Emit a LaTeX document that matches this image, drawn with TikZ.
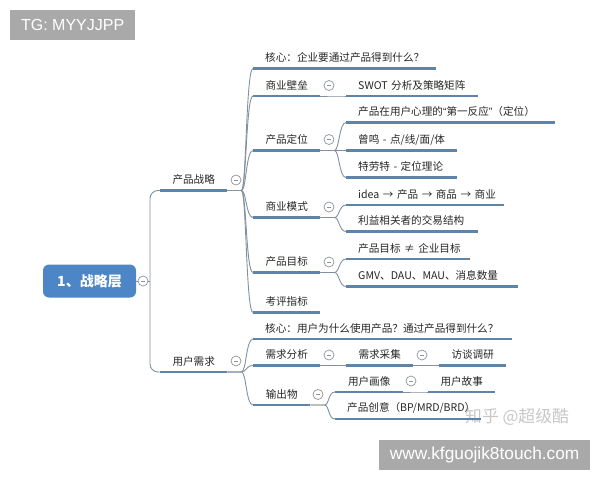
\documentclass[tikz,border=0pt]{standalone}
\usepackage{fontspec}
\setmainfont{Noto Sans CJK SC}
\newfontfamily\latinfont{Liberation Sans}
\usetikzlibrary{calc}
\definecolor{linegray}{HTML}{83919F}
\definecolor{lineblue}{HTML}{5F84AC}
\definecolor{rootblue}{HTML}{4C86C6}
\definecolor{badgegray}{HTML}{8E9499}
\definecolor{bannergray}{HTML}{A9A9A9}
\definecolor{inkgray}{HTML}{262626}
\tikzset{
  base/.style={anchor=south west,inner sep=0pt,minimum height=21pt,text=inkgray,font=\fontsize{10.6pt}{12pt}\selectfont,text width=#1,
    append after command={(\tikzlastnode.south west) edge[uline] (\tikzlastnode.south east)}},
  ct/.style={base=#1,align=center},
  lf/.style={base=#1,align=left,execute at begin node=\hspace*{12pt}},
  uline/.style={draw=lineblue,line width=2.4pt},
  conn/.style={draw=linegray,line width=0.9pt},
  badge/.style={circle,draw=badgegray,fill=white,line width=0.7pt,minimum size=10pt,inner sep=0pt,
    path picture={\draw[badgegray,line width=0.6pt] ($(path picture bounding box.center)+(-2pt,0)$) -- ($(path picture bounding box.center)+(2pt,0)$);}},
  banner/.style={fill=bannergray,text=white,inner sep=0pt,font=\latinfont\fontsize{16pt}{18pt}\selectfont,anchor=north west}
}
\newcommand{\conn}[2]{\draw[conn] (#1.south east) -- ++(14,0) .. controls +(5,0) and ($(#2.south west)+(-7,0)$) .. (#2.south west);}
\begin{document}
\begin{tikzpicture}[x=1pt,y=-1pt]
\useasboundingbox (0,0) rectangle (600,480);
\node[banner,minimum width=125pt,minimum height=30pt] (tg) at (10,10) {TG: MYYJJPP};
\node[anchor=west,inner sep=0pt,text=black!22,font=\fontsize{16.8pt}{18pt}\selectfont] (zh) at (465,417) {知乎 @超级酷};

\node[anchor=center,fill=rootblue,rounded corners=6pt,minimum width=93pt,minimum height=33pt,inner sep=0pt,text=white,font=\fontsize{14pt}{16pt}\selectfont\bfseries] (root) at (89.5,281) {1、战略层};
\coordinate (trunk) at (150,281);

\node[ct=67pt] (strat) at (160,190.5) {产品战略};
\node[ct=67pt] (need) at (160,372) {用户需求};

\node[lf=183pt] (core1) at (253,68.5) {核心：企业要通过产品得到什么？};
\node[ct=67pt] (moat) at (253,96) {商业壁垒};
\node[ct=67pt] (pos) at (253,150.5) {产品定位};
\node[ct=67pt] (model) at (253,217.5) {商业模式};
\node[ct=67pt] (goal) at (253,272.5) {产品目标};
\node[ct=67pt] (kpi) at (253,312.5) {考评指标};

\node[lf=132pt] (swot) at (346,96) {SWOT 分析及策略矩阵};
\node[lf=209pt] (first) at (346,122.5) {产品在用户心理的{\latinfont “}第一反应{\latinfont ”}（定位）};
\node[lf=111pt] (echo) at (346,150.5) {曾鸣 - 点/线/面/体};
\node[lf=111pt] (trout) at (346,177.5) {特劳特 - 定位理论};
\node[lf=158pt] (idea) at (346,205) {idea → 产品 → 商品 → 商业};
\node[lf=132pt] (deal) at (346,231.5) {利益相关者的交易结构};
\node[lf=124pt] (neq) at (346,259) {产品目标 ≠ 企业目标};
\node[lf=172pt] (gmv) at (346,286.5) {GMV、DAU、MAU、消息数量};

\node[lf=259pt] (core2) at (253,339) {核心：用户为什么使用产品？通过产品得到什么？};
\node[ct=67pt] (ana) at (253,365.5) {需求分析};
\node[ct=57pt] (out) at (253,405) {输出物};
\node[ct=67pt] (coll) at (346,365.5) {需求采集};
\node[ct=67pt] (talk) at (439,365.5) {访谈调研};
\node[ct=68pt] (pers) at (335,392) {用户画像};
\node[ct=67pt] (story) at (428,392) {用户故事};
\node[lf=146pt] (idea2) at (335,419) {产品创意（BP/MRD/BRD）};

\draw[conn] (root.east) -- (trunk);
\draw[conn,rounded corners=8pt] (trunk) |- (strat.south west);
\draw[conn,rounded corners=8pt] (trunk) |- (need.south west);
\foreach \c in {core1,moat,pos,model,goal,kpi}{\conn{strat}{\c}}
\foreach \c in {core2,ana,out}{\conn{need}{\c}}
\conn{moat}{swot}
\foreach \c in {first,echo,trout}{\conn{pos}{\c}}
\foreach \c in {idea,deal}{\conn{model}{\c}}
\foreach \c in {neq,gmv}{\conn{goal}{\c}}
\conn{ana}{coll}
\conn{coll}{talk}
\conn{out}{pers}
\conn{out}{idea2}
\conn{pers}{story}

\node[badge] (b0) at (143,281) {};
\node[badge] (b1) at (236,180) {};
\node[badge] (b2) at (236,361) {};
\node[badge] (b3) at (329,85.5) {};
\node[badge] (b4) at (329,139.5) {};
\node[badge] (b5) at (329,207) {};
\node[badge] (b6) at (329,262) {};
\node[badge] (b7) at (329,355) {};
\node[badge] (b8) at (422,355) {};
\node[badge] (b9) at (318,394.5) {};
\node[badge] (b10) at (411,381) {};

\node[banner,minimum width=211pt,minimum height=30pt,font=\latinfont\fontsize{17.3pt}{19pt}\selectfont] (url) at (379,440) {www.kfguojik8touch.com};
\end{tikzpicture}
\end{document}
